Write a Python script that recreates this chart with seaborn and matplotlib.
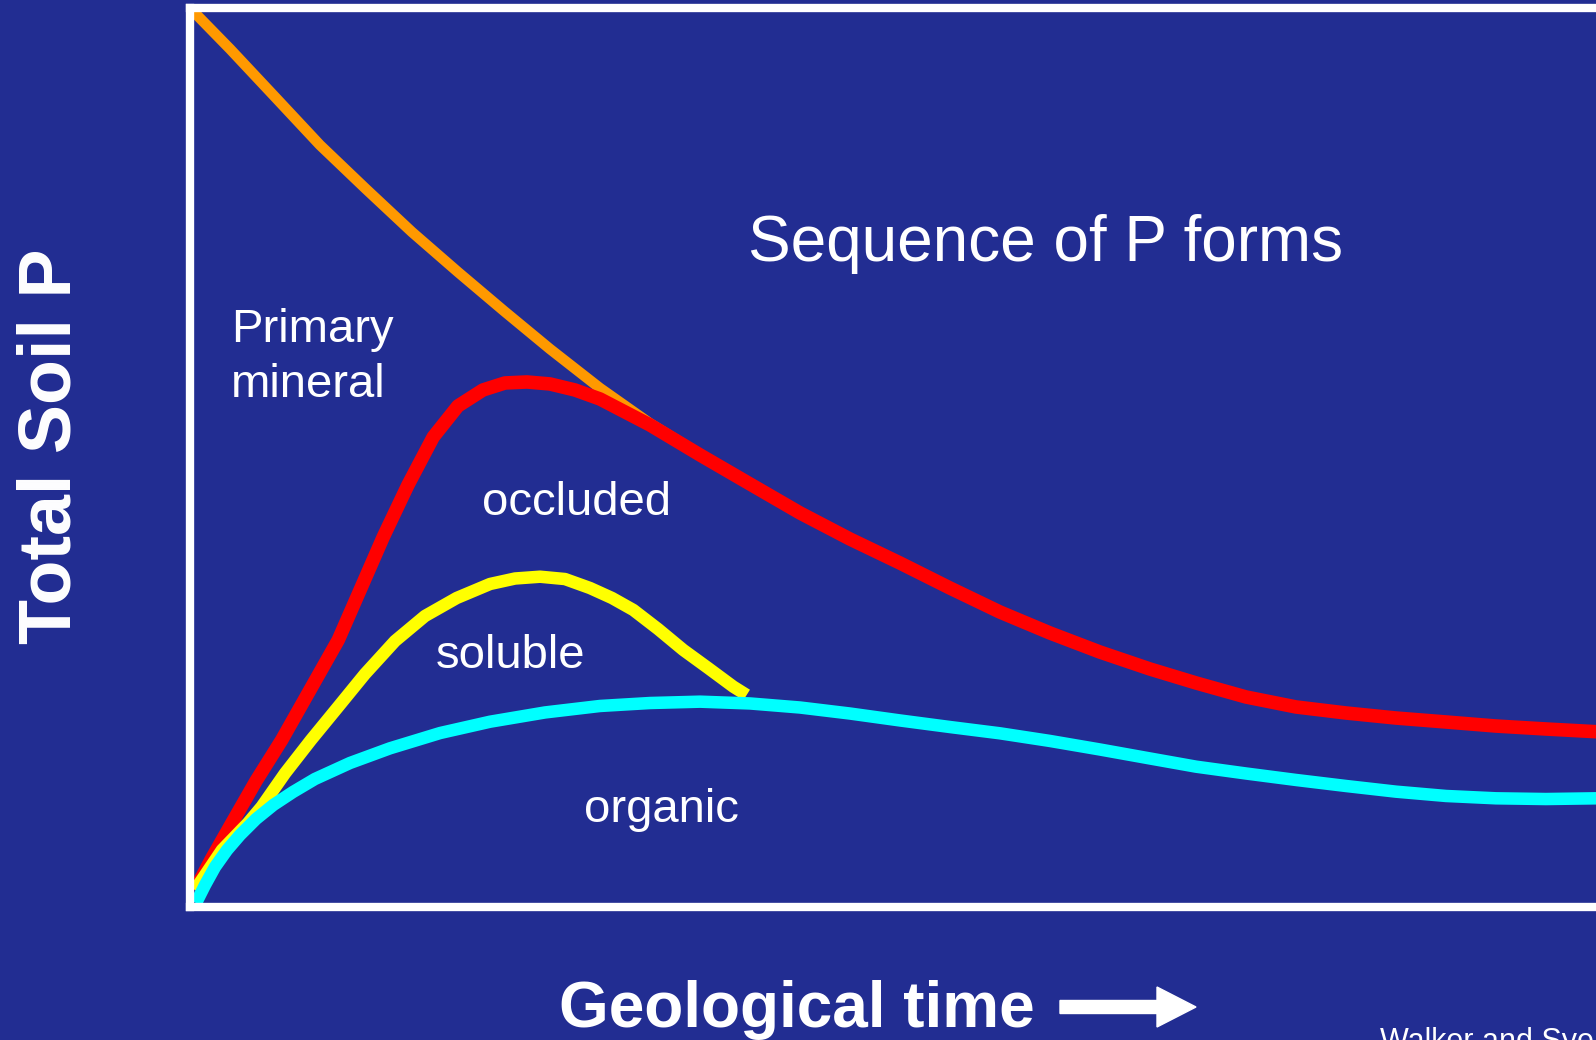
import matplotlib
matplotlib.use("Agg")
import matplotlib.pyplot as plt
from matplotlib.patches import FancyArrow
from matplotlib.transforms import IdentityTransform
import seaborn as sns
import pandas as pd

# ---------------- data (axis units 0-100) ----------------
primary_x = [0.0, 2.82, 5.99, 9.15, 12.39, 15.63, 18.87, 22.11, 25.35, 28.87, 32.39,
             35.92, 39.44, 42.96, 46.48, 50.0, 53.52, 57.04, 60.56, 64.08, 67.61,
             70.85, 74.37, 77.89, 81.41, 84.93, 88.45, 91.97, 95.49, 99.01, 100.0]
primary_y = [100.0, 95.44, 90.10, 84.76, 79.87, 75.08, 70.63, 66.30, 62.07, 57.72, 53.80,
             50.35, 47.05, 43.83, 40.93, 38.26, 35.48, 32.81, 30.48, 28.36, 26.47,
             24.92, 23.36, 22.25, 21.58, 21.02, 20.58, 20.13, 19.80, 19.50, 19.4]

occluded_x = [0.35, 1.55, 2.94, 4.65, 6.46, 8.45, 10.44, 12.04, 13.61, 15.35, 17.13,
              18.87, 20.63, 22.18, 23.73, 25.35, 27.11, 28.87, 32.39, 35.92, 39.44,
              42.96, 46.48, 50.0, 53.52, 57.04, 60.56, 64.08, 67.61, 70.85, 74.37,
              77.89, 81.41, 84.93, 88.45, 91.97, 95.49, 99.01, 100.0]
occluded_y = [1.89, 5.45, 9.31, 14.02, 18.58, 24.14, 29.70, 35.48, 41.16, 46.94, 52.28,
              55.73, 57.51, 58.29, 58.40, 58.18, 57.51, 56.51, 53.62, 50.28, 47.05,
              43.83, 40.93, 38.26, 35.48, 32.81, 30.48, 28.36, 26.47, 24.92, 23.36,
              22.25, 21.58, 21.02, 20.58, 20.13, 19.80, 19.50, 19.4]

soluble_x = [0.35, 2.25, 4.08, 5.05, 6.69, 8.52, 10.44, 12.32, 14.44, 16.55, 18.78,
             21.13, 22.89, 24.65, 26.41, 28.17, 29.72, 31.22, 32.96, 34.74, 36.48,
             38.26, 39.20]
soluble_y = [1.89, 6.34, 9.34, 11.16, 14.87, 18.58, 22.28, 25.92, 29.59, 32.37, 34.37,
             35.93, 36.54, 36.74, 36.48, 35.48, 34.37, 33.04, 30.92, 28.59, 26.59,
             24.51, 23.58]

organic_x = [0.42, 1.06, 1.76, 2.61, 3.52, 4.65, 5.87, 7.25, 8.80, 11.27, 14.08,
             17.61, 21.13, 25.0, 28.87, 32.39, 35.92, 39.44, 42.96, 46.48, 50.0,
             53.52, 57.04, 60.56, 64.08, 67.61, 70.85, 74.37, 77.89, 81.41, 84.93,
             88.45, 91.97, 95.49, 99.01, 100.0]
organic_y = [0.44, 2.45, 4.45, 6.34, 8.01, 9.79, 11.35, 12.79, 14.24, 16.02, 17.65,
             19.35, 20.61, 21.64, 22.36, 22.69, 22.84, 22.64, 22.19, 21.52, 20.75,
             20.02, 19.32, 18.47, 17.52, 16.52, 15.61, 14.85, 14.13, 13.46, 12.83,
             12.35, 12.09, 12.01, 12.09, 12.12]

labels = ["Primary", "mineral", "occluded", "soluble", "organic"]
title_text = "Sequence of P forms"
x_label = "Geological time"
y_label = "Total Soil P"
source_text = "Walker and Syers (1976)"

# ---------------- style ----------------
BG = "#222D92"
sns.set_style("white")
plt.rcParams["font.family"] = ["Liberation Sans", "DejaVu Sans"]

W, H = 1596, 1040
fig = plt.figure(figsize=(W / 100, H / 100), dpi=100, facecolor=BG)
ax = fig.add_axes([190 / W, (H - 907) / H, 1420 / W, 899 / H])
ax.set_facecolor(BG)

series = [
    (primary_x, primary_y, "#FF9900", 7.6),
    (occluded_x, occluded_y, "#FF0000", 9.8),
    (soluble_x, soluble_y, "#FFFF00", 9.0),
    (organic_x, organic_y, "#00FFFF", 9.0),
]
for xs, ys, col, lw in series:
    df = pd.DataFrame({"x": xs, "y": ys})
    sns.lineplot(data=df, x="x", y="y", ax=ax, color=col, linewidth=lw,
                 solid_capstyle="butt", solid_joinstyle="round")

ax.set_xlim(0, 100)
ax.set_ylim(0, 100)
ax.set_xticks([])
ax.set_yticks([])
ax.set_xlabel("")
ax.set_ylabel("")
for side in ["left", "top", "bottom"]:
    ax.spines[side].set_visible(True)
    ax.spines[side].set_color("white")
    ax.spines[side].set_linewidth(6.0)
    ax.spines[side].set_zorder(5)
ax.spines["right"].set_visible(False)


def ftext(px, py, s, **kw):
    fig.text(px / W, (H - py) / H, s, color="white", **kw)


ftext(748, 261, title_text, fontsize=46, ha="left", va="baseline")
ftext(231, 342, labels[0], fontsize=34, ha="left", va="baseline")
ftext(231, 397, labels[1], fontsize=34, ha="left", va="baseline")
ftext(482, 515, labels[2], fontsize=34, ha="left", va="baseline")
ftext(436, 668, labels[3], fontsize=34, ha="left", va="baseline")
ftext(584, 822, labels[4], fontsize=34, ha="left", va="baseline")

ftext(559, 1027, x_label, fontsize=46, fontweight="bold", ha="left", va="baseline")
ftext(71, 446, y_label, fontsize=53, fontweight="bold", ha="center", va="baseline",
      rotation=90, rotation_mode="anchor")
ftext(1380, 1050, source_text, fontsize=22, ha="left", va="baseline")

arrow = FancyArrow(1060, H - 1007, 136, 0, width=13, head_width=40,
                   head_length=39, length_includes_head=True,
                   color="white", transform=IdentityTransform())
fig.patches.append(arrow)

fig.savefig("out.png", dpi=100, facecolor=BG)
